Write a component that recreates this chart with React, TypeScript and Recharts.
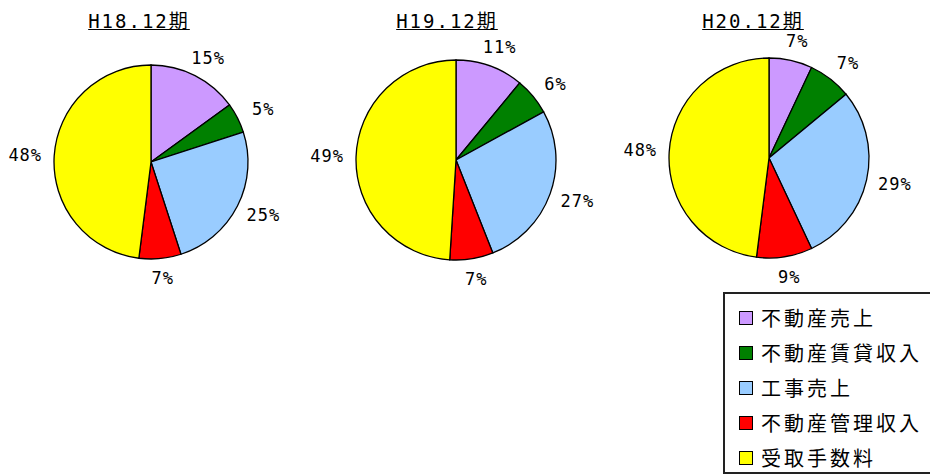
import { PieChart, Pie, Cell } from "recharts";

const categories = ["不動産売上", "不動産賃貸収入", "工事売上", "不動産管理収入", "受取手数料"];
const colors = ["#CC99FF", "#008000", "#99CCFF", "#FF0000", "#FFFF00"];
const periods = ["H18.12期", "H19.12期", "H20.12期"];
const h18 = [15, 5, 25, 7, 48];
const h19 = [11, 6, 27, 7, 49];
const h20 = [7, 7, 29, 9, 48];

const series = [h18, h19, h20];
const pies = [
  { cx: 151, cy: 162, r: 97, titleX: 139 },
  { cx: 456, cy: 160, r: 100, titleX: 447 },
  { cx: 769, cy: 158, r: 100, titleX: 753 },
];

const RADIAN = Math.PI / 180;
const monoFont = "'DejaVu Sans Mono', 'Noto Sans CJK JP', monospace";
const jpFont = "'Noto Sans CJK JP', sans-serif";

function renderLabel(props: any) {
  const { cx, cy, midAngle, outerRadius, value } = props;
  const cos = Math.cos(-midAngle * RADIAN);
  const sin = Math.sin(-midAngle * RADIAN);
  const x = cx + (outerRadius + 12) * cos + 17 * cos;
  const y = cy + (outerRadius + 12) * sin + 8 * sin;
  return (
    <text
      x={x}
      y={y}
      textAnchor="middle"
      dominantBaseline="central"
      fontFamily={monoFont}
      fontSize={17}
      letterSpacing={1}
      fill="#000"
    >
      {`${value}%`}
    </text>
  );
}

export default function App() {
  return (
    <div
      style={{
        position: "absolute",
        left: 0,
        top: 0,
        width: 930,
        height: 474,
        overflow: "hidden",
        background: "#fff",
      }}
    >
      <PieChart width={930} height={474} margin={{ top: 0, right: 0, bottom: 0, left: 0 }}>
        {series.map((vals, k) => {
          const data = categories.map((name, i) => ({ name, value: vals[i] }));
          const p = pies[k];
          return (
            <Pie
              key={k}
              data={data}
              dataKey="value"
              nameKey="name"
              cx={p.cx}
              cy={p.cy}
              outerRadius={p.r}
              startAngle={90}
              endAngle={-270}
              stroke="#000"
              strokeWidth={1.3}
              label={renderLabel}
              labelLine={false}
              isAnimationActive={false}
            >
              {data.map((d, i) => (
                <Cell key={d.name} fill={colors[i]} />
              ))}
            </Pie>
          );
        })}
      </PieChart>

      {periods.map((t, k) => (
        <div
          key={t}
          style={{
            position: "absolute",
            left: pies[k].titleX - 70,
            width: 140,
            top: 8,
            textAlign: "center",
            fontFamily: monoFont,
            fontSize: 19,
            letterSpacing: 2,
            lineHeight: "26px",
            textDecoration: "underline",
            color: "#000",
          }}
        >
          {t}
        </div>
      ))}

      <div
        style={{
          position: "absolute",
          left: 723,
          top: 292,
          width: 220,
          height: 178,
          border: "2px solid #222",
          background: "#fff",
        }}
      >
        {categories.map((c, i) => (
          <div
            key={c}
            style={{
              position: "absolute",
              left: 14,
              top: 11 + i * 35,
              height: 26,
              display: "flex",
              alignItems: "center",
            }}
          >
            <span
              style={{
                display: "inline-block",
                width: 12,
                height: 12,
                background: colors[i],
                border: "1px solid #000",
                marginRight: 8,
              }}
            />
            <span
              style={{
                fontFamily: jpFont,
                fontSize: 20,
                letterSpacing: 3,
                color: "#000",
                lineHeight: "26px",
              }}
            >
              {c}
            </span>
          </div>
        ))}
      </div>
    </div>
  );
}
